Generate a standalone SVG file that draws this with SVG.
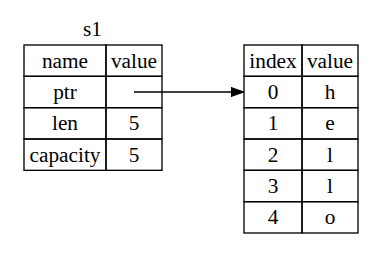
<svg xmlns="http://www.w3.org/2000/svg" width="377" height="259" viewBox="0 0 377 259">
<style>
  .cell { fill: none; stroke: #000; stroke-width: 1.33; }
  .t { font-family: "Liberation Serif", "Times New Roman", serif; font-size: 21.3px; text-anchor: middle; fill: #000; }
  .edge { fill: none; stroke: #000; stroke-width: 1.33; }
</style>
<defs>
  <marker id="arrow" markerUnits="userSpaceOnUse" markerWidth="14" markerHeight="10" refX="13.3" refY="4.7" orient="auto">
    <polygon points="0,0 13.3,4.7 0,9.4" fill="#000" stroke="#000" stroke-width="1"/>
  </marker>
</defs>
<rect width="377" height="259" fill="#fff"/>
<g id="s1">
  <text class="t" x="92.5" y="35.7">s1</text>
  <rect class="cell" x="24" y="45" width="82" height="31.33"/>
  <rect class="cell" x="106" y="45" width="56" height="31.33"/>
  <text class="t" x="65" y="67.7">name</text>
  <text class="t" x="134" y="67.7">value</text>
  <rect class="cell" x="24" y="76.33" width="82" height="31.33"/>
  <rect class="cell" x="106" y="76.33" width="56" height="31.33"/>
  <text class="t" x="65" y="99">ptr</text>
  <rect class="cell" x="24" y="107.67" width="82" height="31.33"/>
  <rect class="cell" x="106" y="107.67" width="56" height="31.33"/>
  <text class="t" x="65" y="130.3">len</text>
  <text class="t" x="134" y="130.3">5</text>
  <rect class="cell" x="24" y="139" width="82" height="31.33"/>
  <rect class="cell" x="106" y="139" width="56" height="31.33"/>
  <text class="t" x="65" y="161.7">capacity</text>
  <text class="t" x="134" y="161.7">5</text>
</g>
<g id="heap">
  <rect class="cell" x="244" y="45" width="58" height="31.33"/>
  <rect class="cell" x="302" y="45" width="56" height="31.33"/>
  <text class="t" x="273" y="67.7">index</text>
  <text class="t" x="330" y="67.7">value</text>
  <rect class="cell" x="244" y="76.33" width="58" height="31.33"/>
  <rect class="cell" x="302" y="76.33" width="56" height="31.33"/>
  <text class="t" x="273" y="99">0</text>
  <text class="t" x="330" y="99">h</text>
  <rect class="cell" x="244" y="107.67" width="58" height="31.33"/>
  <rect class="cell" x="302" y="107.67" width="56" height="31.33"/>
  <text class="t" x="273" y="130.3">1</text>
  <text class="t" x="330" y="130.3">e</text>
  <rect class="cell" x="244" y="139" width="58" height="31.33"/>
  <rect class="cell" x="302" y="139" width="56" height="31.33"/>
  <text class="t" x="273" y="161.7">2</text>
  <text class="t" x="330" y="161.7">l</text>
  <rect class="cell" x="244" y="170.33" width="58" height="31.33"/>
  <rect class="cell" x="302" y="170.33" width="56" height="31.33"/>
  <text class="t" x="273" y="193">3</text>
  <text class="t" x="330" y="193">l</text>
  <rect class="cell" x="244" y="201.67" width="58" height="31.33"/>
  <rect class="cell" x="302" y="201.67" width="56" height="31.33"/>
  <text class="t" x="273" y="224.3">4</text>
  <text class="t" x="330" y="224.3">o</text>
</g>
<g id="connectors">
  <path class="edge" d="M134,92 L244,92" marker-end="url(#arrow)"/>
</g>
</svg>
